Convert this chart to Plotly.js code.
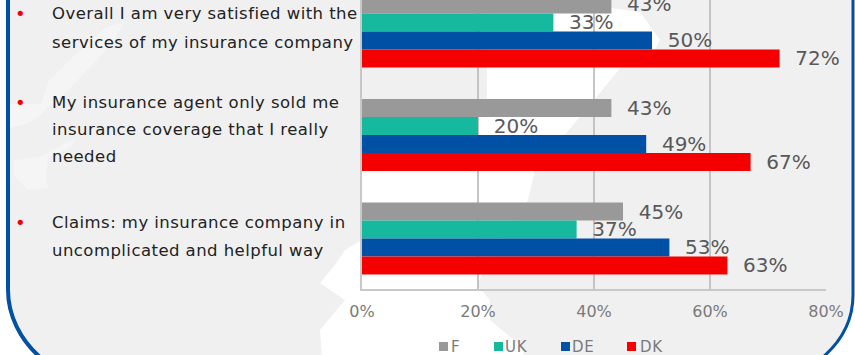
<!DOCTYPE html>
<html>
<head>
<meta charset="utf-8">
<script src="https://cdn.plot.ly/plotly-3.0.1.min.js"></script>
<style>
  html, body { margin: 0; padding: 0; background: #ffffff; overflow: hidden; }
  #chart { width: 855px; height: 355px; }
</style>
</head>
<body>
<div id="chart"></div>
<script>
// Survey statements, top to bottom
const statements = ["Satisfied", "Only needed coverage", "Claims"];

// Share agreeing, per country (percent)
const seriesNames = ["F", "UK", "DE", "DK"];
const valuesF  = [43, 43, 45];
const valuesUK = [33, 20, 37];
const valuesDE = [50, 49, 53];
const valuesDK = [72, 67, 63];
const seriesColors = ["#999999", "#16b89e", "#0050a5", "#f50000"];

const xTicks = [0, 20, 40, 60, 80];

// Statement text beside the bars
const bulletLines = [
  ["Overall I am very satisfied with the", "services of my insurance company"],
  ["My insurance agent only sold me", "insurance coverage that I really", "needed"],
  ["Claims: my insurance company in", "uncomplicated and helpful way"]
];
const lineCenters = [[14, 42], [102, 129, 156], [222, 250]];

// Page geometry in pixels
const W = 855, H = 355;
const plotL = 362, plotR = 826, plotB = 289;
const px = x => (x - plotL) / (plotR - plotL);
const py = y => 1 - y / plotB;
const path = pts => {
  return "M" + pts.map(p => px(p[0]).toFixed(4) + "," + py(p[1]).toFixed(4)).join("L") + "Z";
};

const bg = (pts, color) => ({
  type: "path", xref: "paper", yref: "paper", layer: "below",
  path: path(pts), fillcolor: color, line: {width: 0}
});

// Faded map behind the chart, then the rounded blue frame
const panel = [[8, -5], [853, -5], [853, 295], [850, 318], [843, 335], [822, 358], [40, 358], [22, 340], [11, 315], [8, 290]];
const mapMain = [[553, 0], [640, 12], [660, 40], [650, 60], [622, 66], [590, 105], [535, 170], [528, 200],
  [500, 240], [477, 285], [490, 300], [490, 320], [520, 345], [525, 358], [322, 358], [320, 330], [345, 300],
  [320, 283], [335, 265], [345, 250], [362, 240], [362, 172], [420, 150], [487, 110], [487, 66], [480, 30], [500, 0]];
const mapBand = [[125, 22], [105, 28], [75, 55], [48, 82], [40, 108], [52, 106], [78, 80], [108, 48]];
const mapBlobTop = [[10, 104], [50, 104], [38, 118], [26, 124], [10, 128]];
const mapBlobLow = [[14, 160], [42, 156], [76, 138], [72, 146], [48, 158], [46, 176], [48, 188], [28, 190], [14, 176]];

const shapes = [
  bg(panel, "#f0f0f0"),
  bg(mapMain, "#ffffff"),
  bg(mapBand, "#f5f5f5"),
  bg(mapBlobTop, "#f5f5f5"),
  bg(mapBlobLow, "#f5f5f5"),
  {
    type: "path", xref: "paper", yref: "paper", layer: "below",
    path: "M" + px(8) + "," + py(-5) + "L" + px(8) + "," + py(290) +
          "C" + px(8) + "," + py(315) + " " + px(20) + "," + py(340) + " " + px(41) + "," + py(358),
    line: {color: "#0050a5", width: 4}
  },
  {
    type: "path", xref: "paper", yref: "paper", layer: "below",
    path: "M" + px(853) + "," + py(-5) + "L" + px(853) + "," + py(295) +
          "C" + px(853) + "," + py(320) + " " + px(843) + "," + py(340) + " " + px(822) + "," + py(358),
    line: {color: "#0050a5", width: 3}
  }
];

// Legend swatches
const legendSwatchX = [439, 494, 561, 627];
const legendTextX = [451, 505, 572, 640];
seriesNames.forEach((n, i) => {
  shapes.push({
    type: "rect", xref: "paper", yref: "paper", layer: "above",
    x0: px(legendSwatchX[i]), x1: px(legendSwatchX[i] + 9),
    y0: py(342), y1: py(351), fillcolor: seriesColors[i], line: {width: 0}
  });
});

const textFont = {family: "DejaVu Sans", size: 16.5, color: "#222222"};
const annotations = [];
bulletLines.forEach((lines, i) => {
  annotations.push({
    xref: "paper", yref: "paper", x: px(12.5), y: py(lineCenters[i][0]),
    xanchor: "left", yanchor: "middle", showarrow: false, text: "•",
    font: {family: "DejaVu Sans", size: 18, color: "#f50000"}
  });
  lines.forEach((t, j) => annotations.push({
    xref: "paper", yref: "paper", x: px(50), y: py(lineCenters[i][j]),
    xanchor: "left", yanchor: "middle", showarrow: false, text: t, font: textFont
  }));
});
seriesNames.forEach((n, i) => annotations.push({
  xref: "paper", yref: "paper", x: px(legendTextX[i]), y: py(346.5),
  xanchor: "left", yanchor: "middle", showarrow: false, xshift: -2, text: n,
  font: {family: "DejaVu Sans", size: 15, color: "#7a7a7a"}
}));

const allValues = [valuesF, valuesUK, valuesDE, valuesDK];
const traces = seriesNames.map((name, i) => ({
  type: "bar",
  orientation: "h",
  name: name,
  y: statements,
  x: allValues[i],
  marker: {color: seriesColors[i]},
  text: allValues[i].map(v => "\u00a0\u00a0" + v + "%"),
  textposition: "outside",
  textangle: 0,
  constraintext: "none",
  cliponaxis: false,
  textfont: {family: "DejaVu Sans", size: 20, color: "#595959"},
  hoverinfo: "x+y+name"
}));

const layout = {
  width: W, height: H,
  margin: {l: plotL, r: W - plotR, t: 0, b: H - plotB, pad: 0},
  paper_bgcolor: "#ffffff",
  plot_bgcolor: "rgba(0,0,0,0)",
  barmode: "group",
  bargap: 0.305,
  bargroupgap: 0,
  showlegend: false,
  xaxis: {
    range: [0, 80], tickvals: xTicks, ticktext: xTicks.map(v => v + "%"),
    showgrid: true, gridcolor: "#c4c4c4", gridwidth: 2,
    showline: true, linecolor: "#c8c8c8", linewidth: 2,
    zeroline: false, ticks: "", ticklen: 0, ticklabelstandoff: 7,
    tickfont: {family: "DejaVu Sans", size: 16, color: "#7a7a7a"},
    automargin: false
  },
  yaxis: {
    type: "category",
    categoryorder: "array", categoryarray: statements,
    range: [2.488, -0.304],
    showticklabels: false, ticks: "", showgrid: false,
    showline: true, linecolor: "#c8c8c8", linewidth: 2, zeroline: false,
    automargin: false
  },
  shapes: shapes,
  annotations: annotations
};

Plotly.newPlot("chart", traces, layout, {displayModeBar: false, staticPlot: true}).then(() => {
  // Statement and legend text is set slightly tracked out, anchored at its left edge
  document.querySelectorAll("#chart .annotation-text").forEach(t => {
    const len = t.textContent.length;
    if (len === 1) return;
    const box = t.getBBox();
    t.setAttribute("x", box.x);
    t.style.textAnchor = "start";
    t.style.letterSpacing = len > 2 ? "0.45px" : "0.8px";
  });
});
</script>
</body>
</html>
